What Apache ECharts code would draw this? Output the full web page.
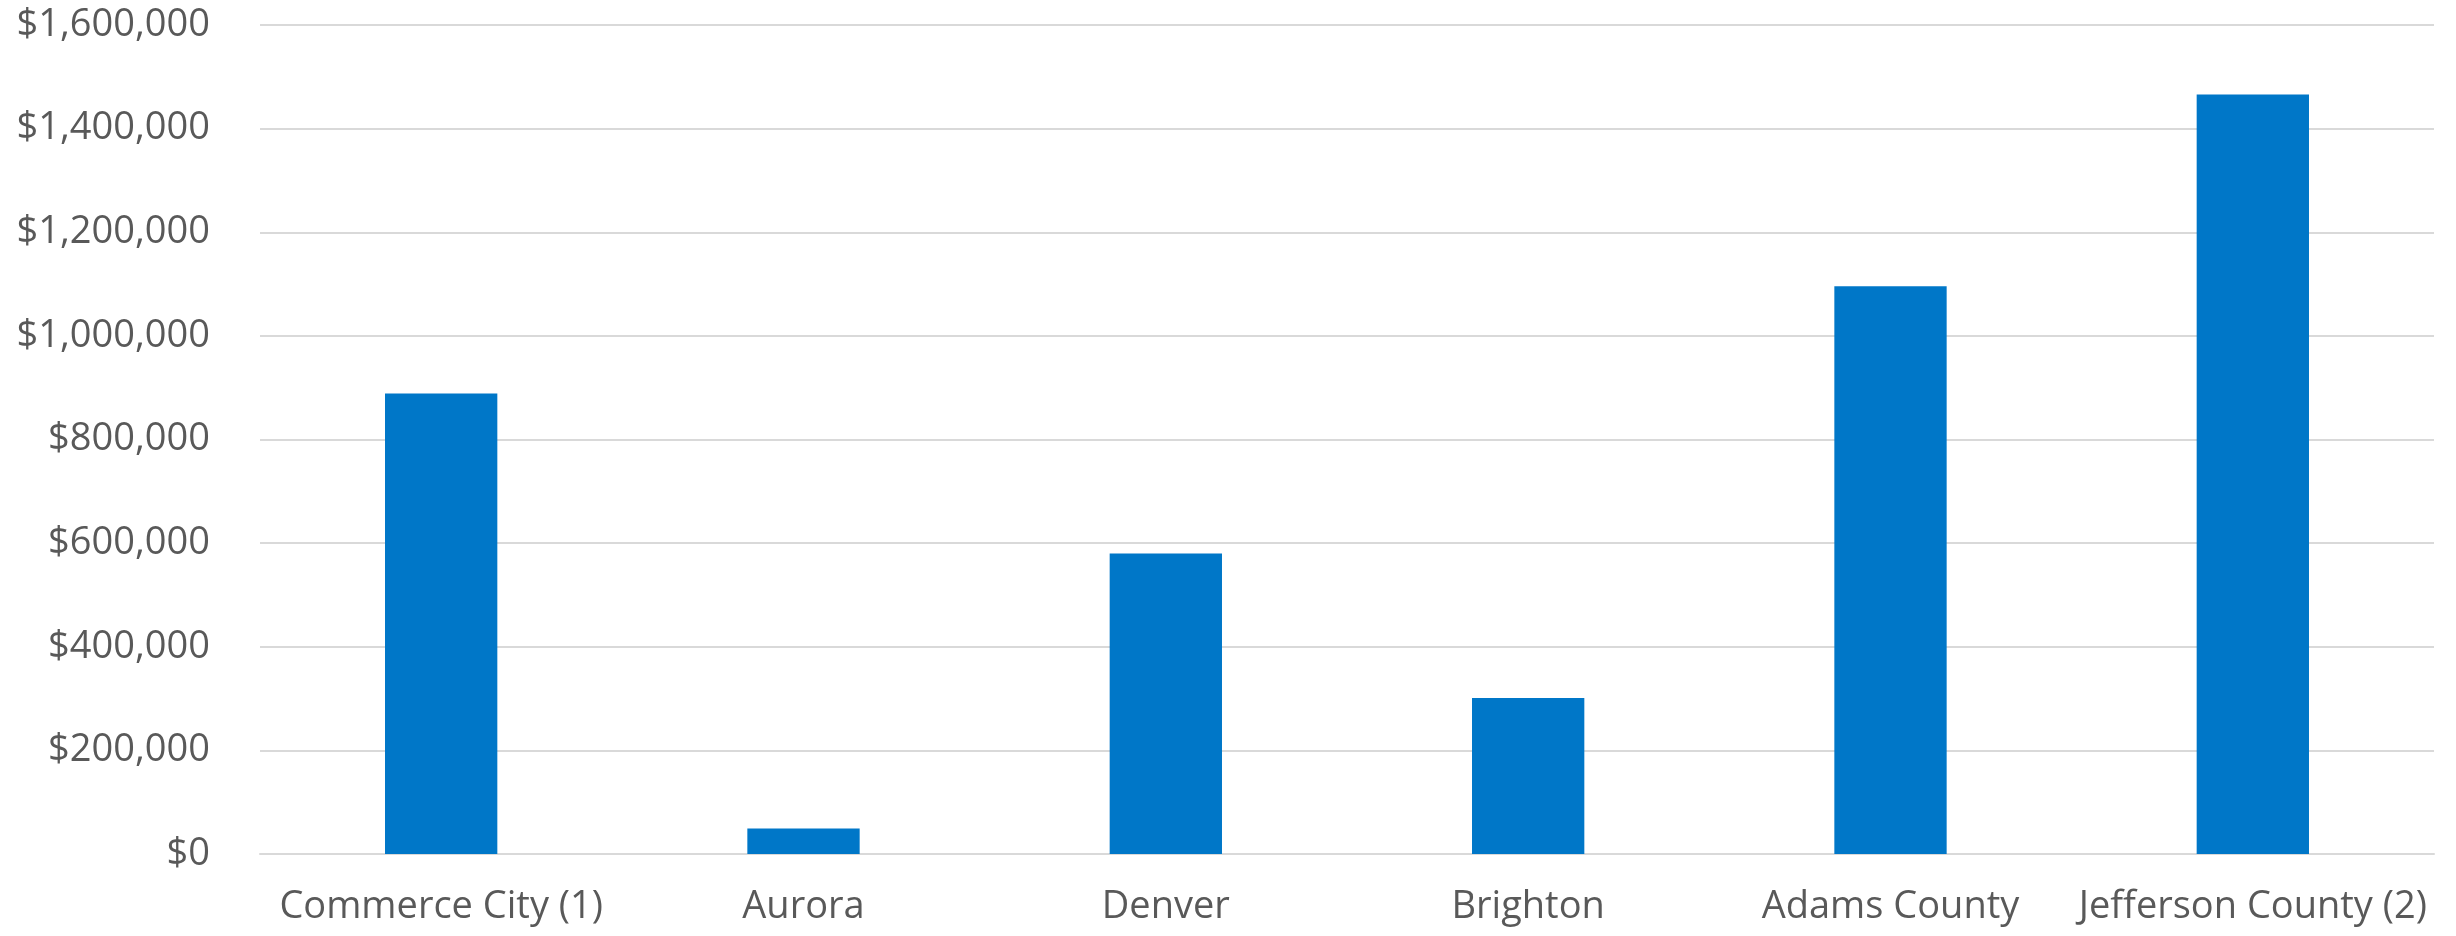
<!DOCTYPE html>
<html>
<head>
<meta charset="utf-8">
<script src="https://cdn.jsdelivr.net/npm/echarts@6/dist/echarts.min.js"></script>
<style>
html,body{margin:0;padding:0;background:#fff;}
#chart{width:2456px;height:936px;}
</style>
</head>
<body>
<div id="chart"></div>
<script>
const categories = ['Commerce City (1)', 'Aurora', 'Denver', 'Brighton', 'Adams County', 'Jefferson County (2)'];
const values = [889000, 49000, 580000, 301000, 1096000, 1466000];
const yMin = 0, yMax = 1600000, yStep = 200000;

function fmtMoney(v) {
  return '$' + Math.round(v).toString().replace(/\B(?=(\d{3})+(?!\d))/g, ',');
}

const chart = echarts.init(document.getElementById('chart'), null, {renderer: 'canvas'});
chart.setOption({
  animation: false,
  backgroundColor: '#ffffff',
  grid: {left: 260, right: 22, top: 25, bottom: 82, containLabel: false},
  xAxis: {
    type: 'category',
    data: categories,
    axisLine: {show: true, lineStyle: {color: '#D9D9D9', width: 2}},
    axisTick: {show: false},
    axisLabel: {color: '#595959', fontFamily: 'Open Sans', fontSize: 38, margin: 34, interval: 0}
  },
  yAxis: {
    type: 'value',
    min: yMin, max: yMax, interval: yStep,
    axisLine: {show: false},
    axisTick: {show: false},
    splitLine: {show: true, lineStyle: {color: '#D9D9D9', width: 2}},
    axisLabel: {color: '#595959', fontFamily: 'Open Sans', fontSize: 38, margin: 50, formatter: fmtMoney}
  },
  series: [{
    type: 'bar',
    data: values,
    barWidth: '31%',
    itemStyle: {color: '#0077C8'}
  }]
});
</script>
</body>
</html>
